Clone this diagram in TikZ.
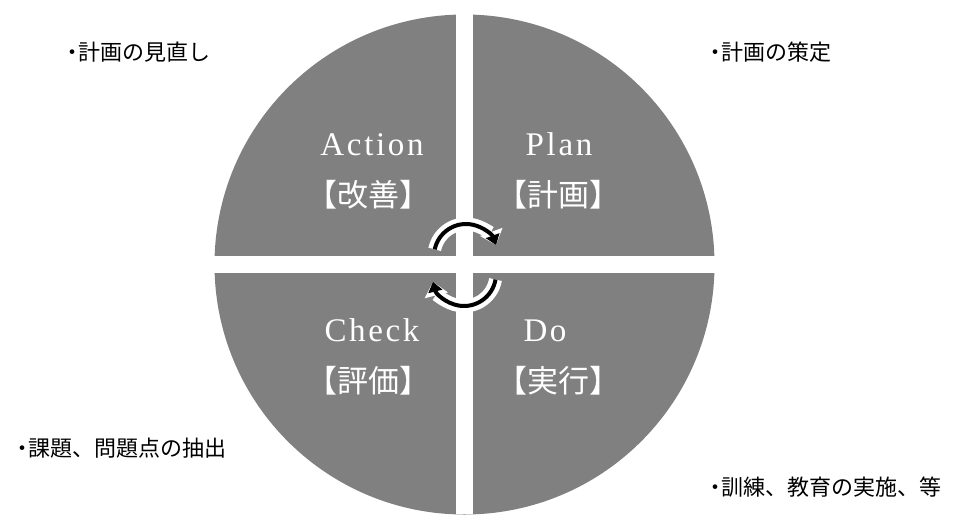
\documentclass[tikz,border=0pt]{standalone}
\usepackage{fontspec}
\newfontfamily\cjk{Noto Sans CJK JP}
\newfontfamily\latq[LetterSpace=8]{Liberation Serif}
\usetikzlibrary{arrows.meta,calc}
\definecolor{qgray}{HTML}{808080}
\newcommand{\bulletdot}{・\kern-5pt}
\tikzset{
  qlat/.style={white, inner sep=0pt, anchor=base, font=\latq\fontsize{33}{38}\selectfont},
  qjp/.style={white, inner sep=0pt, anchor=center, font=\cjk\fontsize{31}{36}\selectfont},
  outlbl/.style={black, inner sep=0pt, anchor=west, font=\cjk\fontsize{22}{26}\selectfont},
  cyclearrow/.style={line width=4pt, black, -{Triangle[length=10pt,width=14pt]},
    preaction={draw=white, line width=13pt, -{Triangle[length=14pt,width=23pt]}}},
}
\begin{document}
\begin{tikzpicture}[x=1pt,y=-1pt]
\useasboundingbox (0,0) rectangle (955,514);
% quadrants
\fill[qgray] (464.5,264.5) circle[radius=250];
\fill[white] (456,0) rectangle (472.5,514);
\fill[white] (0,256) rectangle (955,273);
% quadrant texts
\node[qlat] (action) at (372,155) {Action};
\node[qjp] (kaizen) at (368,195) {【改善】};
\node[qlat] (plan) at (559,155) {Plan};
\node[qjp] (keikaku) at (558,195) {【計画】};
\node[qlat] (check) at (372,341) {Check};
\node[qjp] (hyouka) at (368,381) {【評価】};
\node[qlat] (do) at (545,341) {Do};
\node[qjp] (jikkou) at (558,381) {【実行】};
% cycle arrows
\coordinate (ctop) at (466,256);
\coordinate (cbot) at (464,274);
\draw[cyclearrow] ($(ctop)+(192:32)$) arc[start angle=192, end angle=340, radius=32];
\draw[cyclearrow] ($(cbot)+(10:32)$) arc[start angle=10, end angle=166, radius=32];
% outer labels
\node[outlbl] (minaoshi) at (61,52) {\bulletdot 計画の見直し};
\node[outlbl] (sakutei) at (704,52) {\bulletdot 計画の策定};
\node[outlbl] (kadai) at (11,448) {\bulletdot 課題、問題点の抽出};
\node[outlbl] (kunren) at (704,487) {\bulletdot 訓練、教育の実施、等};
\end{tikzpicture}
\end{document}
